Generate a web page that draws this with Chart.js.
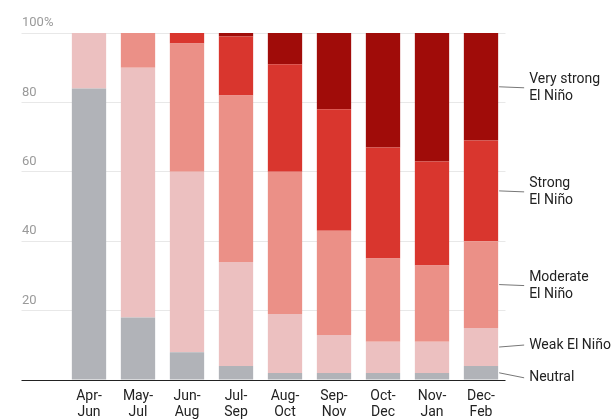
<!DOCTYPE html>
<html>
<head>
<meta charset="utf-8">
<script src="https://cdn.jsdelivr.net/npm/chart.js@4"></script>
<style>
  html, body { margin: 0; padding: 0; background: #fff; }
  #wrap { width: 612px; height: 420px; }
</style>
</head>
<body>
<div id="wrap"><canvas id="ninoChart" width="612" height="420"></canvas></div>
<script>
// Chart data
const seasons = [["Apr-", "Jun"], ["May-", "Jul"], ["Jun-", "Aug"], ["Jul-", "Sep"], ["Aug-", "Oct"],
  ["Sep-", "Nov"], ["Oct-", "Dec"], ["Nov-", "Jan"], ["Dec-", "Feb"]];
const neutral = [84, 18, 8, 4, 2, 2, 2, 2, 4];
const weak = [16, 72, 52, 30, 17, 11, 9, 9, 11];
const moderate = [0, 10, 37, 48, 41, 30, 24, 22, 25];
const strong = [0, 0, 3, 17, 31, 35, 32, 30, 29];
const veryStrong = [0, 0, 0, 1, 9, 22, 33, 37, 31];
const seriesNames = [["Neutral"], ["Weak El Niño"], ["Moderate", "El Niño"], ["Strong", "El Niño"], ["Very strong", "El Niño"]];

const colors = ["#b1b3b8", "#ecc0c0", "#eb9087", "#d9362e", "#a00c09"];
const labelShift = [5, -2, 1, 1, 1];

// Labels on the right, tied to the last bar
const sideLabels = {
  id: "sideLabels",
  afterDatasetsDraw(chart) {
    const ctx = chart.ctx;
    ctx.save();
    ctx.font = "14px Roboto";
    ctx.fillStyle = "#222";
    ctx.textBaseline = "middle";
    ctx.strokeStyle = "#777";
    ctx.lineWidth = 1;
    chart.data.datasets.forEach((ds, i) => {
      const bar = chart.getDatasetMeta(i).data[seasons.length - 1];
      const midY = (bar.y + bar.base) / 2;
      const x0 = bar.x + bar.width / 2 + 1;
      const textY = midY + labelShift[i];
      ctx.beginPath();
      ctx.moveTo(x0, midY);
      ctx.lineTo(x0 + 25, textY);
      ctx.stroke();
      const lines = seriesNames[i];
      const top = textY - (lines.length - 1) * 8.5;
      lines.forEach((t, k) => ctx.fillText(t, x0 + 30, top + k * 17));
    });
    ctx.restore();
  }
};

new Chart(document.getElementById("ninoChart"), {
  type: "bar",
  data: {
    labels: seasons,
    datasets: [neutral, weak, moderate, strong, veryStrong].map((d, i) => ({
      label: seriesNames[i].join(" "),
      data: d,
      backgroundColor: colors[i],
      borderWidth: 0,
      categoryPercentage: 1,
      barPercentage: 0.7
    }))
  },
  options: {
    responsive: false,
    animation: false,
    layout: { padding: { left: 22, right: 106.5, top: 33, bottom: 1 } },
    plugins: { legend: { display: false }, tooltip: { enabled: false } },
    scales: {
      x: {
        stacked: true,
        afterFit: s => { s.height = 39; },
        grid: { display: false },
        border: { display: false },
        ticks: { color: "#222", font: { family: "Roboto", size: 14, lineHeight: 1.18 }, padding: 0, maxRotation: 0 }
      },
      y: {
        stacked: true,
        min: 0,
        max: 100,
        afterFit: s => { s.width = 42.5; },
        border: { display: false },
        grid: {
          color: c => (c.tick && c.tick.value === 0 ? "#222" : "#e8e8e8"),
          tickLength: 43
        },
        ticks: {
          stepSize: 20,
          crossAlign: "far",
          labelOffset: -10,
          color: "#9a9a9a",
          font: { family: "Roboto", size: 13 },
          callback: v => (v === 0 ? "" : v === 100 ? "100%" : v)
        }
      }
    }
  },
  plugins: [sideLabels]
});
</script>
</body>
</html>
